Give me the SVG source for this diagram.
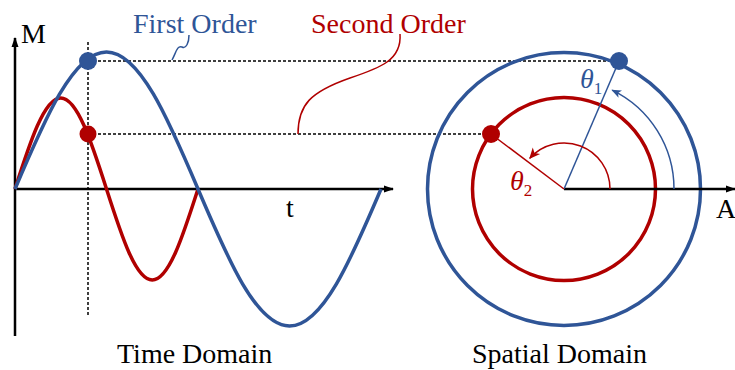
<svg xmlns="http://www.w3.org/2000/svg" width="735" height="370" viewBox="0 0 735 370">
<style>
text{font-family:"Liberation Serif","Times New Roman",serif;font-size:28px}
.blue{stroke:#2F5597;fill:none}
.red{stroke:#B00000;fill:none}
.bt{fill:#2F5597}
.rt{fill:#B00000}
.k{fill:#000}
.axis{stroke:#000;stroke-width:2.5;fill:none}
.dash{stroke:#000;stroke-width:1.5;stroke-dasharray:3 2;fill:none}
.thick{stroke-width:3.5}
.thin{stroke-width:1.5}
</style>
<defs>
<marker id="ak" markerUnits="userSpaceOnUse" markerWidth="10" markerHeight="10" refX="9" refY="5" orient="auto"><path d="M0,1.5 L10,5 L0,8.5 Z" fill="#000"/></marker>
<marker id="ab" markerUnits="userSpaceOnUse" markerWidth="10" markerHeight="10" refX="9" refY="5" orient="auto"><path d="M0,1 L10,5 L0,9 L2.5,5 Z" fill="#2F5597"/></marker>
<marker id="ar" markerUnits="userSpaceOnUse" markerWidth="12" markerHeight="12" refX="10" refY="6" orient="auto"><path d="M0,1 L11,6 L0,11 L3,6 Z" fill="#B00000"/></marker>
</defs>

<g id="time-axes">
<path class="axis" d="M15,336 L15,38" marker-end="url(#ak)"/>
<path class="axis" d="M15,189 L393,189" marker-end="url(#ak)"/>
<text class="k" x="21" y="43">M</text>
<text class="k" x="286" y="217">t</text>
</g>

<g id="connectors">
<path class="dash" d="M88,42 L88,315"/>
<path class="dash" d="M88,61 L619,61"/>
<path class="dash" d="M88,134 L491,134"/>
<path class="blue thin" d="M189,35 C189,43 186,49 182,47 C177,45 176,53 172,60"/>
<path class="red thin" d="M400,34 C402,60 380,68 350,78 C310,92 298,105 298,134"/>
</g>

<g id="second-order-wave">
<path class="red thick" d="M15,189 C29.92,142.38 44.19,98 60.75,98 C77.31,98 91.58,142.38 106.5,189 C121.42,235.62 135.69,280 152.25,280 C168.81,280 183.08,235.62 198,189"/>
<circle cx="88" cy="134" r="8.5" fill="#B00000"/>
</g>

<g id="first-order-wave">
<path class="blue thick" d="M15,189 C44.84,118.81 73.39,52 106.5,52 C139.61,52 168.16,118.81 198,189 C227.84,259.19 256.39,326 289.5,326 C322.61,326 351.16,259.19 381,189"/>
<circle cx="88" cy="61" r="9" fill="#2F5597"/>
</g>

<g id="labels">
<text class="bt" x="133" y="33">First Order</text>
<text class="rt" x="311" y="33">Second Order</text>
<text class="k" x="117" y="363">Time Domain</text>
<text class="k" x="472" y="363">Spatial Domain</text>
</g>

<g id="spatial-domain">
<circle class="blue thick" cx="564" cy="189" r="136.5"/>
<circle class="red thick" cx="564" cy="189" r="91.5"/>
<path class="axis" d="M564,189 L735,189" marker-end="url(#ak)"/>
<text class="k" x="716" y="218">A</text>
<path class="blue thin" d="M564,189 L619,61"/>
<path class="red thin" d="M564,189 L491,134"/>
<path class="blue thin" d="M674,189 A110,110 0 0 0 612.2,90.1" marker-end="url(#ab)"/>
<path class="red thin" d="M610,189 A46,46 0 0 0 529.8,158.2" marker-end="url(#ar)"/>
<circle cx="619" cy="61" r="9" fill="#2F5597"/>
<circle cx="491" cy="134" r="9" fill="#B00000"/>
<text class="bt" x="580" y="88" font-style="italic" font-size="26">θ<tspan font-style="normal" font-size="17" dy="6">1</tspan></text>
<text class="rt" x="510" y="190" font-style="italic" font-size="26">θ<tspan font-style="normal" font-size="17" dy="6">2</tspan></text>
</g>
</svg>
